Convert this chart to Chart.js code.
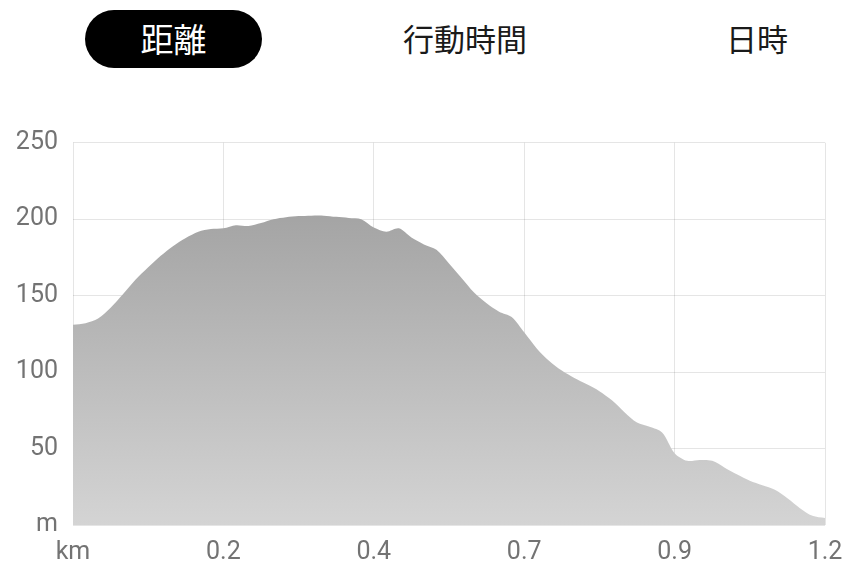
<!DOCTYPE html>
<html>
<head>
<meta charset="utf-8">
<script src="https://cdn.jsdelivr.net/npm/chart.js@4.4.1/dist/chart.umd.min.js"></script>
<style>
  html, body { margin: 0; padding: 0; background: #fff; }
  body { width: 844px; height: 567px; position: relative; overflow: hidden; font-family: "Noto Sans CJK JP", sans-serif; }
  .tabs { position: absolute; top: 10px; left: 0; width: 844px; height: 58px; }
  .tab { position: absolute; top: 0; height: 58px; line-height: 56px; font-size: 31px; color: #1a1a1a; text-align: center; }
  .tab.active { background: #000; color: #fff; border-radius: 29px; font-size: 33px; }
  #wrap { position: absolute; left: 0; top: 100px; width: 844px; height: 467px; }
</style>
</head>
<body>
<div class="tabs">
  <div class="tab active" style="left:85px;width:177px;">距離</div>
  <div class="tab" style="left:385px;width:160px;">行動時間</div>
  <div class="tab" style="left:707px;width:100px;">日時</div>
</div>
<div id="wrap"><canvas id="mainChart"></canvas></div>
<script>
// Elevation profile values, sampled at equal steps along the x axis
const distanceLabels = ['km', '0.2', '0.4', '0.7', '0.9', '1.2'];
const elevationUnit = 'm';
const samplesPerLabel = 12;
const elevation = [
    131, 132, 135, 142, 151, 160.5, 168.5, 176, 182.5, 187.7, 191.8, 193.5,
    194, 196, 195.5, 197.5, 200, 201.3, 202, 202.3, 202.3, 201.5, 200.8, 200,
    194.5, 191.8, 194, 188, 183.5, 180, 171, 161.5, 152, 145, 139.5, 136,
    126, 115.5, 107.3, 101, 96.2, 92, 87.5, 81.5, 73.8, 67, 64.2, 60.5,
    47, 42, 42.5, 42, 37.5, 33, 29, 26, 23, 17.5, 11, 6,
    4.5
];

function initializeElevationChart() {
    const ctx = document.getElementById('mainChart').getContext('2d');
    new Chart(ctx, {
        type: 'line',
        data: {
            datasets: [{
                data: elevation.map((y, i) => ({ x: i, y: y })),
                fill: 'origin',
                borderWidth: 0,
                pointRadius: 0,
                tension: 0.3,
                backgroundColor: (context) => {
                    const area = context.chart.chartArea;
                    if (!area) return '#bbbbbb';
                    const g = context.chart.ctx.createLinearGradient(0, area.top, 0, area.bottom);
                    g.addColorStop(0, '#999999');
                    g.addColorStop(1, '#d4d4d4');
                    return g;
                }
            }]
        },
        options: {
            responsive: true,
            maintainAspectRatio: false,
            animation: false,
            layout: { padding: { top: 42.7, right: 19, left: 0, bottom: 0 } },
            plugins: {
                legend: { display: false },
                tooltip: { enabled: false }
            },
            scales: {
                x: {
                    type: 'linear',
                    min: 0,
                    max: (distanceLabels.length - 1) * samplesPerLabel,
                    z: 1,
                    border: { display: false },
                    grid: { color: 'rgba(0,0,0,0.1)', drawTicks: false },
                    ticks: {
                        stepSize: samplesPerLabel,
                        padding: 13,
                        color: '#737373',
                        font: { family: 'Roboto', size: 25 },
                        maxRotation: 0,
                        callback: (v) => distanceLabels[v / samplesPerLabel]
                    },
                    afterFit: (scale) => {
                        scale.height = 42;
                        scale.paddingLeft = 0;
                        scale.paddingRight = 0;
                    }
                },
                y: {
                    min: 0,
                    max: 250,
                    z: 1,
                    border: { display: false },
                    grid: { color: 'rgba(0,0,0,0.1)', drawTicks: false },
                    ticks: {
                        stepSize: 50,
                        padding: 15,
                        color: '#737373',
                        font: { family: 'Roboto', size: 25 },
                        callback: (v) => v === 0 ? elevationUnit : v
                    },
                    afterFit: (scale) => { scale.width = 73; }
                }
            }
        }
    });
}

initializeElevationChart();
</script>
</body>
</html>
